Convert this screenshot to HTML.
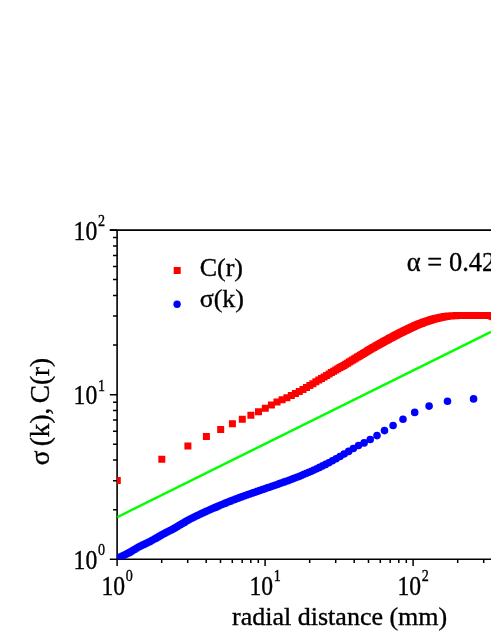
<!DOCTYPE html>
<html><head><meta charset="utf-8"><title>chart</title>
<style>
html,body{margin:0;padding:0;background:#fff;}
body{width:491px;height:635px;overflow:hidden;}
svg{display:block;will-change:transform;}
text{font-family:"Liberation Serif",serif;fill:#000;stroke:#000;stroke-width:0.35px;}
</style></head><body>
<svg width="491" height="635" viewBox="0 0 491 635">
<rect width="491" height="635" fill="#fff"/>
<defs><clipPath id="c"><rect x="117.1" y="229.3" width="380" height="329.9"/></clipPath></defs>
<path d="M117.1 230.1V559.2H495M109.8 230.1H495" stroke="#000" stroke-width="1.6" fill="none"/>
<path d="M117.1 559.2H109.8M117.1 509.7H113M117.1 480.7H113M117.1 460.1H113M117.1 444.2H113M117.1 431.2H113M117.1 420.1H113M117.1 410.6H113M117.1 402.2H113M117.1 394.7H109.8M117.1 345.1H113M117.1 316.1H113M117.1 295.6H113M117.1 279.6H113M117.1 266.6H113M117.1 255.6H113M117.1 246H113M117.1 237.6H113M117.1 230.1H109.8M117.1 559.2V566.1M161.7 559.2V562.9M187.7 559.2V562.9M206.2 559.2V562.9M220.5 559.2V562.9M232.3 559.2V562.9M242.2 559.2V562.9M250.8 559.2V562.9M258.3 559.2V562.9M265.1 559.2V566.1M309.7 559.2V562.9M335.7 559.2V562.9M354.2 559.2V562.9M368.5 559.2V562.9M380.3 559.2V562.9M390.2 559.2V562.9M398.8 559.2V562.9M406.3 559.2V562.9M413.1 559.2V566.1M457.7 559.2V562.9M483.7 559.2V562.9" stroke="#000" stroke-width="1.5" fill="none"/>
<text transform="translate(101.4 594.6) scale(0.91 1.07)" font-size="26">10<tspan font-size="15.5" dx="0.9" dy="-12.4">0</tspan></text>
<text transform="translate(249.4 594.6) scale(0.91 1.07)" font-size="26">10<tspan font-size="15.5" dx="0.9" dy="-12.4">1</tspan></text>
<text transform="translate(397.4 594.6) scale(0.91 1.07)" font-size="26">10<tspan font-size="15.5" dx="0.9" dy="-12.4">2</tspan></text>
<text transform="translate(73.6 568.7) scale(0.91 1.07)" font-size="26">10<tspan font-size="15.5" dx="0.9" dy="-12.4">0</tspan></text>
<text transform="translate(73.6 404.2) scale(0.91 1.07)" font-size="26">10<tspan font-size="15.5" dx="0.9" dy="-12.4">1</tspan></text>
<text transform="translate(73.6 239.6) scale(0.91 1.07)" font-size="26">10<tspan font-size="15.5" dx="0.9" dy="-12.4">2</tspan></text>
<g clip-path="url(#c)">
<path d="M117.3 517.1L491 331.8" stroke="#00ff00" stroke-width="2.4" fill="none"/>
<path d="M113.8 477h7v7h-7zM158.3 455.8h7v7h-7zM184.4 442.4h7v7h-7zM202.9 433h7v7h-7zM217.2 426h7v7h-7zM228.9 420.2h7v7h-7zM238.8 415.8h7v7h-7zM247.4 411.7h7v7h-7zM255 408.3h7v7h-7zM261.8 404.8h7v7h-7zM267.9 401.5h7v7h-7zM273.5 398.5h7v7h-7zM278.6 396.3h7v7h-7zM283.4 394.2h7v7h-7zM287.8 392h7v7h-7zM291.9 390.1h7v7h-7zM295.8 388h7v7h-7zM299.5 386h7v7h-7zM303 384h7v7h-7zM306.3 382h7v7h-7zM309.4 380.2h7v7h-7zM312.4 378.3h7v7h-7zM315.3 376.6h7v7h-7zM318 375h7v7h-7zM320.6 373.4h7v7h-7zM323.1 371.9h7v7h-7zM325.6 370.5h7v7h-7zM327.9 369.1h7v7h-7zM330.2 367.8h7v7h-7zM332.3 366.6h7v7h-7zM334.4 365.3h7v7h-7zM336.5 364.1h7v7h-7zM338.5 363h7v7h-7zM340.4 361.9h7v7h-7zM342.2 360.8h7v7h-7zM344.1 359.7h7v7h-7zM345.8 358.6h7v7h-7zM347.5 357.6h7v7h-7zM349.2 356.6h7v7h-7zM350.8 355.6h7v7h-7zM352.4 354.6h7v7h-7zM354 353.6h7v7h-7zM355.5 352.7h7v7h-7zM356.9 351.8h7v7h-7zM358.4 350.9h7v7h-7zM359.8 350h7v7h-7zM361.2 349.2h7v7h-7zM362.5 348.4h7v7h-7zM363.9 347.6h7v7h-7zM365.2 346.8h7v7h-7zM366.4 346.1h7v7h-7zM367.7 345.3h7v7h-7zM368.9 344.6h7v7h-7zM370.1 343.9h7v7h-7zM371.3 343.2h7v7h-7zM372.4 342.6h7v7h-7zM373.6 341.9h7v7h-7zM374.7 341.3h7v7h-7zM375.8 340.7h7v7h-7zM376.9 340.1h7v7h-7zM377.9 339.5h7v7h-7zM379 338.9h7v7h-7zM380 338.3h7v7h-7zM381 337.8h7v7h-7zM382 337.2h7v7h-7zM383 336.7h7v7h-7zM384 336.2h7v7h-7zM384.9 335.7h7v7h-7zM385.9 335.1h7v7h-7zM386.8 334.6h7v7h-7zM387.7 334.2h7v7h-7zM388.6 333.7h7v7h-7zM389.5 333.2h7v7h-7zM390.4 332.7h7v7h-7zM391.2 332.3h7v7h-7zM392.1 331.8h7v7h-7zM392.9 331.4h7v7h-7zM393.7 331h7v7h-7zM394.6 330.6h7v7h-7zM395.4 330.1h7v7h-7zM396.2 329.7h7v7h-7zM396.9 329.3h7v7h-7zM397.7 328.9h7v7h-7zM398.5 328.6h7v7h-7zM399.3 328.2h7v7h-7zM400 327.8h7v7h-7zM400.8 327.4h7v7h-7zM401.5 327.1h7v7h-7zM402.2 326.7h7v7h-7zM402.9 326.4h7v7h-7zM403.6 326.1h7v7h-7zM404.3 325.7h7v7h-7zM405 325.4h7v7h-7zM405.7 325.1h7v7h-7zM406.4 324.7h7v7h-7zM407.1 324.4h7v7h-7zM407.7 324.1h7v7h-7zM408.4 323.8h7v7h-7zM409.1 323.5h7v7h-7zM409.7 323.2h7v7h-7zM410.3 322.9h7v7h-7zM411 322.6h7v7h-7zM411.6 322.3h7v7h-7zM412.2 322.1h7v7h-7zM412.8 321.8h7v7h-7zM413.4 321.5h7v7h-7zM414 321.3h7v7h-7zM414.6 321h7v7h-7zM415.2 320.8h7v7h-7zM415.8 320.5h7v7h-7zM416.4 320.3h7v7h-7zM417 320.1h7v7h-7zM417.6 319.9h7v7h-7zM418.1 319.7h7v7h-7zM418.7 319.5h7v7h-7zM419.2 319.3h7v7h-7zM419.8 319h7v7h-7zM420.3 318.8h7v7h-7zM420.9 318.6h7v7h-7zM421.4 318.5h7v7h-7zM421.9 318.3h7v7h-7zM422.5 318.1h7v7h-7zM423 317.9h7v7h-7zM423.5 317.7h7v7h-7zM424 317.5h7v7h-7zM424.5 317.4h7v7h-7zM425.1 317.2h7v7h-7zM425.6 317h7v7h-7zM426.1 316.9h7v7h-7zM426.6 316.7h7v7h-7zM427.1 316.5h7v7h-7zM427.5 316.4h7v7h-7zM428 316.2h7v7h-7zM428.5 316.1h7v7h-7zM429 316h7v7h-7zM429.5 315.8h7v7h-7zM429.9 315.7h7v7h-7zM430.4 315.6h7v7h-7zM430.9 315.4h7v7h-7zM431.3 315.3h7v7h-7zM431.8 315.2h7v7h-7zM432.2 315.1h7v7h-7zM432.7 315h7v7h-7zM433.1 314.9h7v7h-7zM433.6 314.8h7v7h-7zM434 314.7h7v7h-7zM434.5 314.6h7v7h-7zM434.9 314.5h7v7h-7zM435.3 314.4h7v7h-7zM435.8 314.3h7v7h-7zM436.2 314.2h7v7h-7zM436.6 314.1h7v7h-7zM437 314h7v7h-7zM437.4 313.9h7v7h-7zM437.9 313.8h7v7h-7zM438.3 313.8h7v7h-7zM438.7 313.7h7v7h-7zM439.1 313.6h7v7h-7zM439.5 313.5h7v7h-7zM439.9 313.4h7v7h-7zM440.3 313.3h7v7h-7zM440.7 313.3h7v7h-7zM441.1 313.2h7v7h-7zM441.5 313.1h7v7h-7zM441.9 313.1h7v7h-7zM442.3 313h7v7h-7zM442.7 312.9h7v7h-7zM443 312.9h7v7h-7zM443.4 312.8h7v7h-7zM443.8 312.8h7v7h-7zM444.2 312.7h7v7h-7zM444.5 312.7h7v7h-7zM444.9 312.6h7v7h-7zM445.3 312.6h7v7h-7zM445.7 312.5h7v7h-7zM446 312.5h7v7h-7zM446.4 312.5h7v7h-7zM446.7 312.4h7v7h-7zM447.1 312.4h7v7h-7zM447.5 312.4h7v7h-7zM447.8 312.4h7v7h-7zM448.2 312.4h7v7h-7zM448.5 312.3h7v7h-7zM448.9 312.3h7v7h-7zM449.2 312.3h7v7h-7zM449.6 312.3h7v7h-7zM449.9 312.3h7v7h-7zM450.3 312.3h7v7h-7zM450.6 312.2h7v7h-7zM450.9 312.2h7v7h-7zM451.3 312.2h7v7h-7zM451.6 312.2h7v7h-7zM451.9 312.2h7v7h-7zM452.3 312.2h7v7h-7zM452.6 312.1h7v7h-7zM452.9 312.1h7v7h-7zM453.3 312.1h7v7h-7zM453.6 312.1h7v7h-7zM453.9 312.1h7v7h-7zM454.2 312.1h7v7h-7zM454.6 312.1h7v7h-7zM454.9 312h7v7h-7zM455.2 312h7v7h-7zM455.5 312h7v7h-7zM455.8 312h7v7h-7zM456.1 312h7v7h-7zM456.4 312h7v7h-7zM456.8 312h7v7h-7zM457.1 312h7v7h-7zM457.4 312h7v7h-7zM457.7 312h7v7h-7zM458 312h7v7h-7zM458.3 311.9h7v7h-7zM458.6 311.9h7v7h-7zM458.9 311.9h7v7h-7zM459.2 311.9h7v7h-7zM459.5 311.9h7v7h-7zM459.8 311.9h7v7h-7zM460.1 311.9h7v7h-7zM460.4 311.9h7v7h-7zM460.7 311.9h7v7h-7zM460.9 311.9h7v7h-7zM461.2 311.9h7v7h-7zM461.5 311.9h7v7h-7zM461.8 311.9h7v7h-7zM462.1 311.9h7v7h-7zM462.4 311.9h7v7h-7zM462.7 311.9h7v7h-7zM462.9 311.9h7v7h-7zM463.2 311.9h7v7h-7zM463.5 311.9h7v7h-7zM463.8 311.9h7v7h-7zM464.1 311.9h7v7h-7zM464.3 311.9h7v7h-7zM464.6 311.9h7v7h-7zM464.9 311.9h7v7h-7zM465.1 311.9h7v7h-7zM465.4 311.9h7v7h-7zM465.7 311.9h7v7h-7zM466 311.9h7v7h-7zM466.2 311.9h7v7h-7zM466.5 311.9h7v7h-7zM466.8 311.9h7v7h-7zM467 311.9h7v7h-7zM467.3 311.9h7v7h-7zM467.5 311.9h7v7h-7zM467.8 311.9h7v7h-7zM468.1 311.9h7v7h-7zM468.3 311.9h7v7h-7zM468.6 311.9h7v7h-7zM468.8 311.9h7v7h-7zM469.1 311.9h7v7h-7zM469.3 311.9h7v7h-7zM469.6 311.9h7v7h-7zM469.8 311.9h7v7h-7zM470.1 311.9h7v7h-7zM470.3 311.9h7v7h-7zM470.6 311.9h7v7h-7zM470.8 311.9h7v7h-7zM471.1 311.9h7v7h-7zM471.3 311.9h7v7h-7zM471.6 311.9h7v7h-7zM471.8 311.9h7v7h-7zM472.1 311.9h7v7h-7zM472.3 311.9h7v7h-7zM472.6 311.9h7v7h-7zM472.8 311.9h7v7h-7zM473 311.9h7v7h-7zM473.3 311.9h7v7h-7zM473.5 311.9h7v7h-7zM473.8 311.9h7v7h-7zM474 311.9h7v7h-7zM474.2 311.9h7v7h-7zM474.5 311.9h7v7h-7zM474.7 311.9h7v7h-7zM474.9 311.9h7v7h-7zM475.2 311.9h7v7h-7zM475.4 311.9h7v7h-7zM475.6 311.9h7v7h-7zM475.9 311.9h7v7h-7zM476.1 311.9h7v7h-7zM476.3 311.9h7v7h-7zM476.5 311.9h7v7h-7zM476.8 311.9h7v7h-7zM477 311.9h7v7h-7zM477.2 311.9h7v7h-7zM477.4 311.9h7v7h-7zM477.7 311.9h7v7h-7zM477.9 311.9h7v7h-7zM478.1 311.9h7v7h-7zM478.3 311.9h7v7h-7zM478.6 311.9h7v7h-7zM478.8 311.9h7v7h-7zM479 311.9h7v7h-7zM479.2 311.9h7v7h-7zM479.4 311.9h7v7h-7zM479.6 311.9h7v7h-7zM479.9 311.9h7v7h-7zM480.1 311.9h7v7h-7zM480.3 311.9h7v7h-7zM480.5 311.9h7v7h-7zM480.7 311.9h7v7h-7zM480.9 311.9h7v7h-7zM481.1 311.9h7v7h-7zM481.4 311.9h7v7h-7zM481.6 311.9h7v7h-7zM481.8 311.9h7v7h-7zM482 311.9h7v7h-7zM482.2 311.9h7v7h-7zM482.4 311.9h7v7h-7zM482.6 311.9h7v7h-7zM482.8 311.9h7v7h-7zM483 311.9h7v7h-7zM483.2 311.9h7v7h-7zM483.4 311.9h7v7h-7zM483.6 311.9h7v7h-7zM483.8 311.9h7v7h-7zM484 311.9h7v7h-7zM484.2 311.9h7v7h-7zM484.4 311.9h7v7h-7zM484.6 311.9h7v7h-7zM484.8 311.9h7v7h-7zM485 311.9h7v7h-7zM485.2 311.9h7v7h-7zM485.4 311.9h7v7h-7zM485.6 311.9h7v7h-7zM485.8 311.9h7v7h-7zM486 311.9h7v7h-7zM486.2 311.9h7v7h-7zM486.4 311.9h7v7h-7zM486.6 311.9h7v7h-7zM486.8 312h7v7h-7zM487 312h7v7h-7zM487.2 312.1h7v7h-7zM487.4 312.1h7v7h-7zM487.6 312.2h7v7h-7zM487.8 312.2h7v7h-7zM488 312.3h7v7h-7zM488.1 312.4h7v7h-7zM488.3 312.4h7v7h-7zM488.5 312.5h7v7h-7zM488.7 312.6h7v7h-7zM488.9 312.7h7v7h-7zM489.1 312.8h7v7h-7zM489.3 312.8h7v7h-7zM489.5 312.9h7v7h-7zM489.6 313h7v7h-7zM489.8 313.1h7v7h-7zM490 313.1h7v7h-7zM490.2 313.2h7v7h-7zM490.4 313.3h7v7h-7zM490.6 313.4h7v7h-7zM490.7 313.4h7v7h-7zM490.9 313.5h7v7h-7zM491.1 313.5h7v7h-7zM491.3 313.6h7v7h-7zM491.5 313.6h7v7h-7zM491.6 313.7h7v7h-7zM491.8 313.8h7v7h-7zM492 313.8h7v7h-7zM492.2 313.9h7v7h-7zM492.4 313.9h7v7h-7zM492.5 314h7v7h-7zM492.7 314h7v7h-7zM492.9 314.1h7v7h-7zM493.1 314.1h7v7h-7zM493.2 314.2h7v7h-7zM493.4 314.2h7v7h-7zM493.6 314.3h7v7h-7zM493.8 314.3h7v7h-7zM493.9 314.4h7v7h-7zM494.1 314.4h7v7h-7zM494.3 314.5h7v7h-7zM494.5 314.5h7v7h-7zM494.6 314.6h7v7h-7zM494.8 314.6h7v7h-7zM495 314.7h7v7h-7zM495.1 314.7h7v7h-7zM495.3 314.8h7v7h-7zM495.5 314.8h7v7h-7zM495.6 314.9h7v7h-7zM495.8 314.9h7v7h-7zM496 315h7v7h-7zM496.2 315h7v7h-7zM496.3 315h7v7h-7zM496.5 315.1h7v7h-7z" fill="#ff0000"/>
<path d="M113.5 558.4a3.8 3.8 0 1 0 7.6 0a3.8 3.8 0 1 0 -7.6 0zM113.6 558.4a3.8 3.8 0 1 0 7.6 0a3.8 3.8 0 1 0 -7.6 0zM113.8 558.3a3.8 3.8 0 1 0 7.6 0a3.8 3.8 0 1 0 -7.6 0zM113.9 558.3a3.8 3.8 0 1 0 7.6 0a3.8 3.8 0 1 0 -7.6 0zM114 558.2a3.8 3.8 0 1 0 7.6 0a3.8 3.8 0 1 0 -7.6 0zM114.1 558.2a3.8 3.8 0 1 0 7.6 0a3.8 3.8 0 1 0 -7.6 0zM114.3 558.1a3.8 3.8 0 1 0 7.6 0a3.8 3.8 0 1 0 -7.6 0zM114.4 558.1a3.8 3.8 0 1 0 7.6 0a3.8 3.8 0 1 0 -7.6 0zM114.5 558a3.8 3.8 0 1 0 7.6 0a3.8 3.8 0 1 0 -7.6 0zM114.6 558a3.8 3.8 0 1 0 7.6 0a3.8 3.8 0 1 0 -7.6 0zM114.8 557.9a3.8 3.8 0 1 0 7.6 0a3.8 3.8 0 1 0 -7.6 0zM114.9 557.8a3.8 3.8 0 1 0 7.6 0a3.8 3.8 0 1 0 -7.6 0zM115 557.8a3.8 3.8 0 1 0 7.6 0a3.8 3.8 0 1 0 -7.6 0zM115.2 557.7a3.8 3.8 0 1 0 7.6 0a3.8 3.8 0 1 0 -7.6 0zM115.3 557.7a3.8 3.8 0 1 0 7.6 0a3.8 3.8 0 1 0 -7.6 0zM115.4 557.6a3.8 3.8 0 1 0 7.6 0a3.8 3.8 0 1 0 -7.6 0zM115.5 557.6a3.8 3.8 0 1 0 7.6 0a3.8 3.8 0 1 0 -7.6 0zM115.7 557.5a3.8 3.8 0 1 0 7.6 0a3.8 3.8 0 1 0 -7.6 0zM115.8 557.4a3.8 3.8 0 1 0 7.6 0a3.8 3.8 0 1 0 -7.6 0zM115.9 557.4a3.8 3.8 0 1 0 7.6 0a3.8 3.8 0 1 0 -7.6 0zM116.1 557.3a3.8 3.8 0 1 0 7.6 0a3.8 3.8 0 1 0 -7.6 0zM116.2 557.3a3.8 3.8 0 1 0 7.6 0a3.8 3.8 0 1 0 -7.6 0zM116.3 557.2a3.8 3.8 0 1 0 7.6 0a3.8 3.8 0 1 0 -7.6 0zM116.5 557.1a3.8 3.8 0 1 0 7.6 0a3.8 3.8 0 1 0 -7.6 0zM116.6 557.1a3.8 3.8 0 1 0 7.6 0a3.8 3.8 0 1 0 -7.6 0zM116.7 557a3.8 3.8 0 1 0 7.6 0a3.8 3.8 0 1 0 -7.6 0zM116.8 557a3.8 3.8 0 1 0 7.6 0a3.8 3.8 0 1 0 -7.6 0zM117 556.9a3.8 3.8 0 1 0 7.6 0a3.8 3.8 0 1 0 -7.6 0zM117.1 556.8a3.8 3.8 0 1 0 7.6 0a3.8 3.8 0 1 0 -7.6 0zM117.2 556.8a3.8 3.8 0 1 0 7.6 0a3.8 3.8 0 1 0 -7.6 0zM117.4 556.7a3.8 3.8 0 1 0 7.6 0a3.8 3.8 0 1 0 -7.6 0zM117.5 556.7a3.8 3.8 0 1 0 7.6 0a3.8 3.8 0 1 0 -7.6 0zM117.6 556.6a3.8 3.8 0 1 0 7.6 0a3.8 3.8 0 1 0 -7.6 0zM117.8 556.5a3.8 3.8 0 1 0 7.6 0a3.8 3.8 0 1 0 -7.6 0zM117.9 556.5a3.8 3.8 0 1 0 7.6 0a3.8 3.8 0 1 0 -7.6 0zM118 556.4a3.8 3.8 0 1 0 7.6 0a3.8 3.8 0 1 0 -7.6 0zM118.2 556.4a3.8 3.8 0 1 0 7.6 0a3.8 3.8 0 1 0 -7.6 0zM118.3 556.3a3.8 3.8 0 1 0 7.6 0a3.8 3.8 0 1 0 -7.6 0zM118.5 556.2a3.8 3.8 0 1 0 7.6 0a3.8 3.8 0 1 0 -7.6 0zM118.6 556.2a3.8 3.8 0 1 0 7.6 0a3.8 3.8 0 1 0 -7.6 0zM118.7 556.1a3.8 3.8 0 1 0 7.6 0a3.8 3.8 0 1 0 -7.6 0zM118.9 556a3.8 3.8 0 1 0 7.6 0a3.8 3.8 0 1 0 -7.6 0zM119 556a3.8 3.8 0 1 0 7.6 0a3.8 3.8 0 1 0 -7.6 0zM119.1 555.9a3.8 3.8 0 1 0 7.6 0a3.8 3.8 0 1 0 -7.6 0zM119.3 555.8a3.8 3.8 0 1 0 7.6 0a3.8 3.8 0 1 0 -7.6 0zM119.4 555.8a3.8 3.8 0 1 0 7.6 0a3.8 3.8 0 1 0 -7.6 0zM119.5 555.7a3.8 3.8 0 1 0 7.6 0a3.8 3.8 0 1 0 -7.6 0zM119.7 555.6a3.8 3.8 0 1 0 7.6 0a3.8 3.8 0 1 0 -7.6 0zM119.8 555.6a3.8 3.8 0 1 0 7.6 0a3.8 3.8 0 1 0 -7.6 0zM120 555.5a3.8 3.8 0 1 0 7.6 0a3.8 3.8 0 1 0 -7.6 0zM120.1 555.4a3.8 3.8 0 1 0 7.6 0a3.8 3.8 0 1 0 -7.6 0zM120.2 555.4a3.8 3.8 0 1 0 7.6 0a3.8 3.8 0 1 0 -7.6 0zM120.4 555.3a3.8 3.8 0 1 0 7.6 0a3.8 3.8 0 1 0 -7.6 0zM120.5 555.2a3.8 3.8 0 1 0 7.6 0a3.8 3.8 0 1 0 -7.6 0zM120.7 555.2a3.8 3.8 0 1 0 7.6 0a3.8 3.8 0 1 0 -7.6 0zM120.8 555.1a3.8 3.8 0 1 0 7.6 0a3.8 3.8 0 1 0 -7.6 0zM120.9 555a3.8 3.8 0 1 0 7.6 0a3.8 3.8 0 1 0 -7.6 0zM121.1 555a3.8 3.8 0 1 0 7.6 0a3.8 3.8 0 1 0 -7.6 0zM121.2 554.9a3.8 3.8 0 1 0 7.6 0a3.8 3.8 0 1 0 -7.6 0zM121.4 554.8a3.8 3.8 0 1 0 7.6 0a3.8 3.8 0 1 0 -7.6 0zM121.5 554.8a3.8 3.8 0 1 0 7.6 0a3.8 3.8 0 1 0 -7.6 0zM121.7 554.7a3.8 3.8 0 1 0 7.6 0a3.8 3.8 0 1 0 -7.6 0zM121.8 554.6a3.8 3.8 0 1 0 7.6 0a3.8 3.8 0 1 0 -7.6 0zM121.9 554.5a3.8 3.8 0 1 0 7.6 0a3.8 3.8 0 1 0 -7.6 0zM122.1 554.5a3.8 3.8 0 1 0 7.6 0a3.8 3.8 0 1 0 -7.6 0zM122.2 554.4a3.8 3.8 0 1 0 7.6 0a3.8 3.8 0 1 0 -7.6 0zM122.4 554.3a3.8 3.8 0 1 0 7.6 0a3.8 3.8 0 1 0 -7.6 0zM122.5 554.3a3.8 3.8 0 1 0 7.6 0a3.8 3.8 0 1 0 -7.6 0zM122.7 554.2a3.8 3.8 0 1 0 7.6 0a3.8 3.8 0 1 0 -7.6 0zM122.8 554.1a3.8 3.8 0 1 0 7.6 0a3.8 3.8 0 1 0 -7.6 0zM122.9 554a3.8 3.8 0 1 0 7.6 0a3.8 3.8 0 1 0 -7.6 0zM123.1 554a3.8 3.8 0 1 0 7.6 0a3.8 3.8 0 1 0 -7.6 0zM123.2 553.9a3.8 3.8 0 1 0 7.6 0a3.8 3.8 0 1 0 -7.6 0zM123.4 553.8a3.8 3.8 0 1 0 7.6 0a3.8 3.8 0 1 0 -7.6 0zM123.5 553.7a3.8 3.8 0 1 0 7.6 0a3.8 3.8 0 1 0 -7.6 0zM123.7 553.7a3.8 3.8 0 1 0 7.6 0a3.8 3.8 0 1 0 -7.6 0zM123.8 553.6a3.8 3.8 0 1 0 7.6 0a3.8 3.8 0 1 0 -7.6 0zM124 553.5a3.8 3.8 0 1 0 7.6 0a3.8 3.8 0 1 0 -7.6 0zM124.1 553.4a3.8 3.8 0 1 0 7.6 0a3.8 3.8 0 1 0 -7.6 0zM124.3 553.3a3.8 3.8 0 1 0 7.6 0a3.8 3.8 0 1 0 -7.6 0zM124.4 553.3a3.8 3.8 0 1 0 7.6 0a3.8 3.8 0 1 0 -7.6 0zM124.6 553.2a3.8 3.8 0 1 0 7.6 0a3.8 3.8 0 1 0 -7.6 0zM124.7 553.1a3.8 3.8 0 1 0 7.6 0a3.8 3.8 0 1 0 -7.6 0zM124.9 553a3.8 3.8 0 1 0 7.6 0a3.8 3.8 0 1 0 -7.6 0zM125 552.9a3.8 3.8 0 1 0 7.6 0a3.8 3.8 0 1 0 -7.6 0zM125.2 552.9a3.8 3.8 0 1 0 7.6 0a3.8 3.8 0 1 0 -7.6 0zM125.3 552.8a3.8 3.8 0 1 0 7.6 0a3.8 3.8 0 1 0 -7.6 0zM125.5 552.7a3.8 3.8 0 1 0 7.6 0a3.8 3.8 0 1 0 -7.6 0zM125.6 552.6a3.8 3.8 0 1 0 7.6 0a3.8 3.8 0 1 0 -7.6 0zM125.8 552.5a3.8 3.8 0 1 0 7.6 0a3.8 3.8 0 1 0 -7.6 0zM125.9 552.4a3.8 3.8 0 1 0 7.6 0a3.8 3.8 0 1 0 -7.6 0zM126.1 552.4a3.8 3.8 0 1 0 7.6 0a3.8 3.8 0 1 0 -7.6 0zM126.2 552.3a3.8 3.8 0 1 0 7.6 0a3.8 3.8 0 1 0 -7.6 0zM126.4 552.2a3.8 3.8 0 1 0 7.6 0a3.8 3.8 0 1 0 -7.6 0zM126.5 552.1a3.8 3.8 0 1 0 7.6 0a3.8 3.8 0 1 0 -7.6 0zM126.7 552a3.8 3.8 0 1 0 7.6 0a3.8 3.8 0 1 0 -7.6 0zM126.8 551.9a3.8 3.8 0 1 0 7.6 0a3.8 3.8 0 1 0 -7.6 0zM127 551.8a3.8 3.8 0 1 0 7.6 0a3.8 3.8 0 1 0 -7.6 0zM127.2 551.7a3.8 3.8 0 1 0 7.6 0a3.8 3.8 0 1 0 -7.6 0zM127.3 551.6a3.8 3.8 0 1 0 7.6 0a3.8 3.8 0 1 0 -7.6 0zM127.5 551.6a3.8 3.8 0 1 0 7.6 0a3.8 3.8 0 1 0 -7.6 0zM127.6 551.5a3.8 3.8 0 1 0 7.6 0a3.8 3.8 0 1 0 -7.6 0zM127.8 551.4a3.8 3.8 0 1 0 7.6 0a3.8 3.8 0 1 0 -7.6 0zM127.9 551.3a3.8 3.8 0 1 0 7.6 0a3.8 3.8 0 1 0 -7.6 0zM128.1 551.2a3.8 3.8 0 1 0 7.6 0a3.8 3.8 0 1 0 -7.6 0zM128.2 551.1a3.8 3.8 0 1 0 7.6 0a3.8 3.8 0 1 0 -7.6 0zM128.4 551a3.8 3.8 0 1 0 7.6 0a3.8 3.8 0 1 0 -7.6 0zM128.6 550.9a3.8 3.8 0 1 0 7.6 0a3.8 3.8 0 1 0 -7.6 0zM128.7 550.8a3.8 3.8 0 1 0 7.6 0a3.8 3.8 0 1 0 -7.6 0zM128.9 550.7a3.8 3.8 0 1 0 7.6 0a3.8 3.8 0 1 0 -7.6 0zM129 550.6a3.8 3.8 0 1 0 7.6 0a3.8 3.8 0 1 0 -7.6 0zM129.2 550.5a3.8 3.8 0 1 0 7.6 0a3.8 3.8 0 1 0 -7.6 0zM129.4 550.4a3.8 3.8 0 1 0 7.6 0a3.8 3.8 0 1 0 -7.6 0zM129.5 550.3a3.8 3.8 0 1 0 7.6 0a3.8 3.8 0 1 0 -7.6 0zM129.7 550.2a3.8 3.8 0 1 0 7.6 0a3.8 3.8 0 1 0 -7.6 0zM129.8 550.1a3.8 3.8 0 1 0 7.6 0a3.8 3.8 0 1 0 -7.6 0zM130 550a3.8 3.8 0 1 0 7.6 0a3.8 3.8 0 1 0 -7.6 0zM130.2 549.9a3.8 3.8 0 1 0 7.6 0a3.8 3.8 0 1 0 -7.6 0zM130.3 549.8a3.8 3.8 0 1 0 7.6 0a3.8 3.8 0 1 0 -7.6 0zM130.5 549.8a3.8 3.8 0 1 0 7.6 0a3.8 3.8 0 1 0 -7.6 0zM130.7 549.7a3.8 3.8 0 1 0 7.6 0a3.8 3.8 0 1 0 -7.6 0zM130.8 549.6a3.8 3.8 0 1 0 7.6 0a3.8 3.8 0 1 0 -7.6 0zM131 549.5a3.8 3.8 0 1 0 7.6 0a3.8 3.8 0 1 0 -7.6 0zM131.2 549.4a3.8 3.8 0 1 0 7.6 0a3.8 3.8 0 1 0 -7.6 0zM131.3 549.3a3.8 3.8 0 1 0 7.6 0a3.8 3.8 0 1 0 -7.6 0zM131.5 549.2a3.8 3.8 0 1 0 7.6 0a3.8 3.8 0 1 0 -7.6 0zM131.7 549.1a3.8 3.8 0 1 0 7.6 0a3.8 3.8 0 1 0 -7.6 0zM131.8 549a3.8 3.8 0 1 0 7.6 0a3.8 3.8 0 1 0 -7.6 0zM132 548.9a3.8 3.8 0 1 0 7.6 0a3.8 3.8 0 1 0 -7.6 0zM132.2 548.8a3.8 3.8 0 1 0 7.6 0a3.8 3.8 0 1 0 -7.6 0zM132.3 548.7a3.8 3.8 0 1 0 7.6 0a3.8 3.8 0 1 0 -7.6 0zM132.5 548.6a3.8 3.8 0 1 0 7.6 0a3.8 3.8 0 1 0 -7.6 0zM132.7 548.5a3.8 3.8 0 1 0 7.6 0a3.8 3.8 0 1 0 -7.6 0zM132.8 548.4a3.8 3.8 0 1 0 7.6 0a3.8 3.8 0 1 0 -7.6 0zM133 548.3a3.8 3.8 0 1 0 7.6 0a3.8 3.8 0 1 0 -7.6 0zM133.2 548.2a3.8 3.8 0 1 0 7.6 0a3.8 3.8 0 1 0 -7.6 0zM133.3 548.1a3.8 3.8 0 1 0 7.6 0a3.8 3.8 0 1 0 -7.6 0zM133.5 548a3.8 3.8 0 1 0 7.6 0a3.8 3.8 0 1 0 -7.6 0zM133.7 547.9a3.8 3.8 0 1 0 7.6 0a3.8 3.8 0 1 0 -7.6 0zM133.9 547.8a3.8 3.8 0 1 0 7.6 0a3.8 3.8 0 1 0 -7.6 0zM134 547.7a3.8 3.8 0 1 0 7.6 0a3.8 3.8 0 1 0 -7.6 0zM134.2 547.6a3.8 3.8 0 1 0 7.6 0a3.8 3.8 0 1 0 -7.6 0zM134.4 547.5a3.8 3.8 0 1 0 7.6 0a3.8 3.8 0 1 0 -7.6 0zM134.5 547.4a3.8 3.8 0 1 0 7.6 0a3.8 3.8 0 1 0 -7.6 0zM134.7 547.3a3.8 3.8 0 1 0 7.6 0a3.8 3.8 0 1 0 -7.6 0zM134.9 547.2a3.8 3.8 0 1 0 7.6 0a3.8 3.8 0 1 0 -7.6 0zM135.1 547.1a3.8 3.8 0 1 0 7.6 0a3.8 3.8 0 1 0 -7.6 0zM135.2 547a3.8 3.8 0 1 0 7.6 0a3.8 3.8 0 1 0 -7.6 0zM135.4 546.9a3.8 3.8 0 1 0 7.6 0a3.8 3.8 0 1 0 -7.6 0zM135.6 546.8a3.8 3.8 0 1 0 7.6 0a3.8 3.8 0 1 0 -7.6 0zM135.8 546.7a3.8 3.8 0 1 0 7.6 0a3.8 3.8 0 1 0 -7.6 0zM136 546.6a3.8 3.8 0 1 0 7.6 0a3.8 3.8 0 1 0 -7.6 0zM136.1 546.5a3.8 3.8 0 1 0 7.6 0a3.8 3.8 0 1 0 -7.6 0zM136.3 546.4a3.8 3.8 0 1 0 7.6 0a3.8 3.8 0 1 0 -7.6 0zM136.5 546.3a3.8 3.8 0 1 0 7.6 0a3.8 3.8 0 1 0 -7.6 0zM136.7 546.3a3.8 3.8 0 1 0 7.6 0a3.8 3.8 0 1 0 -7.6 0zM136.8 546.2a3.8 3.8 0 1 0 7.6 0a3.8 3.8 0 1 0 -7.6 0zM137 546.1a3.8 3.8 0 1 0 7.6 0a3.8 3.8 0 1 0 -7.6 0zM137.2 546a3.8 3.8 0 1 0 7.6 0a3.8 3.8 0 1 0 -7.6 0zM137.4 545.9a3.8 3.8 0 1 0 7.6 0a3.8 3.8 0 1 0 -7.6 0zM137.6 545.8a3.8 3.8 0 1 0 7.6 0a3.8 3.8 0 1 0 -7.6 0zM137.8 545.7a3.8 3.8 0 1 0 7.6 0a3.8 3.8 0 1 0 -7.6 0zM137.9 545.6a3.8 3.8 0 1 0 7.6 0a3.8 3.8 0 1 0 -7.6 0zM138.1 545.5a3.8 3.8 0 1 0 7.6 0a3.8 3.8 0 1 0 -7.6 0zM138.3 545.4a3.8 3.8 0 1 0 7.6 0a3.8 3.8 0 1 0 -7.6 0zM138.5 545.3a3.8 3.8 0 1 0 7.6 0a3.8 3.8 0 1 0 -7.6 0zM138.7 545.3a3.8 3.8 0 1 0 7.6 0a3.8 3.8 0 1 0 -7.6 0zM138.9 545.2a3.8 3.8 0 1 0 7.6 0a3.8 3.8 0 1 0 -7.6 0zM139.1 545.1a3.8 3.8 0 1 0 7.6 0a3.8 3.8 0 1 0 -7.6 0zM139.2 545a3.8 3.8 0 1 0 7.6 0a3.8 3.8 0 1 0 -7.6 0zM139.4 544.9a3.8 3.8 0 1 0 7.6 0a3.8 3.8 0 1 0 -7.6 0zM139.6 544.8a3.8 3.8 0 1 0 7.6 0a3.8 3.8 0 1 0 -7.6 0zM139.8 544.7a3.8 3.8 0 1 0 7.6 0a3.8 3.8 0 1 0 -7.6 0zM140 544.6a3.8 3.8 0 1 0 7.6 0a3.8 3.8 0 1 0 -7.6 0zM140.2 544.5a3.8 3.8 0 1 0 7.6 0a3.8 3.8 0 1 0 -7.6 0zM140.4 544.5a3.8 3.8 0 1 0 7.6 0a3.8 3.8 0 1 0 -7.6 0zM140.6 544.4a3.8 3.8 0 1 0 7.6 0a3.8 3.8 0 1 0 -7.6 0zM140.8 544.3a3.8 3.8 0 1 0 7.6 0a3.8 3.8 0 1 0 -7.6 0zM140.9 544.2a3.8 3.8 0 1 0 7.6 0a3.8 3.8 0 1 0 -7.6 0zM141.1 544.1a3.8 3.8 0 1 0 7.6 0a3.8 3.8 0 1 0 -7.6 0zM141.3 544a3.8 3.8 0 1 0 7.6 0a3.8 3.8 0 1 0 -7.6 0zM141.5 543.9a3.8 3.8 0 1 0 7.6 0a3.8 3.8 0 1 0 -7.6 0zM141.7 543.8a3.8 3.8 0 1 0 7.6 0a3.8 3.8 0 1 0 -7.6 0zM141.9 543.7a3.8 3.8 0 1 0 7.6 0a3.8 3.8 0 1 0 -7.6 0zM142.1 543.6a3.8 3.8 0 1 0 7.6 0a3.8 3.8 0 1 0 -7.6 0zM142.3 543.5a3.8 3.8 0 1 0 7.6 0a3.8 3.8 0 1 0 -7.6 0zM142.5 543.5a3.8 3.8 0 1 0 7.6 0a3.8 3.8 0 1 0 -7.6 0zM142.7 543.4a3.8 3.8 0 1 0 7.6 0a3.8 3.8 0 1 0 -7.6 0zM142.9 543.3a3.8 3.8 0 1 0 7.6 0a3.8 3.8 0 1 0 -7.6 0zM143.1 543.2a3.8 3.8 0 1 0 7.6 0a3.8 3.8 0 1 0 -7.6 0zM143.3 543.1a3.8 3.8 0 1 0 7.6 0a3.8 3.8 0 1 0 -7.6 0zM143.5 543a3.8 3.8 0 1 0 7.6 0a3.8 3.8 0 1 0 -7.6 0zM143.7 542.9a3.8 3.8 0 1 0 7.6 0a3.8 3.8 0 1 0 -7.6 0zM143.9 542.8a3.8 3.8 0 1 0 7.6 0a3.8 3.8 0 1 0 -7.6 0zM144.1 542.7a3.8 3.8 0 1 0 7.6 0a3.8 3.8 0 1 0 -7.6 0zM144.3 542.6a3.8 3.8 0 1 0 7.6 0a3.8 3.8 0 1 0 -7.6 0zM144.5 542.5a3.8 3.8 0 1 0 7.6 0a3.8 3.8 0 1 0 -7.6 0zM144.7 542.4a3.8 3.8 0 1 0 7.6 0a3.8 3.8 0 1 0 -7.6 0zM144.9 542.3a3.8 3.8 0 1 0 7.6 0a3.8 3.8 0 1 0 -7.6 0zM145.1 542.2a3.8 3.8 0 1 0 7.6 0a3.8 3.8 0 1 0 -7.6 0zM145.3 542.1a3.8 3.8 0 1 0 7.6 0a3.8 3.8 0 1 0 -7.6 0zM145.5 542a3.8 3.8 0 1 0 7.6 0a3.8 3.8 0 1 0 -7.6 0zM145.7 541.9a3.8 3.8 0 1 0 7.6 0a3.8 3.8 0 1 0 -7.6 0zM145.9 541.8a3.8 3.8 0 1 0 7.6 0a3.8 3.8 0 1 0 -7.6 0zM146.2 541.7a3.8 3.8 0 1 0 7.6 0a3.8 3.8 0 1 0 -7.6 0zM146.4 541.6a3.8 3.8 0 1 0 7.6 0a3.8 3.8 0 1 0 -7.6 0zM146.6 541.5a3.8 3.8 0 1 0 7.6 0a3.8 3.8 0 1 0 -7.6 0zM146.8 541.4a3.8 3.8 0 1 0 7.6 0a3.8 3.8 0 1 0 -7.6 0zM147 541.2a3.8 3.8 0 1 0 7.6 0a3.8 3.8 0 1 0 -7.6 0zM147.2 541.1a3.8 3.8 0 1 0 7.6 0a3.8 3.8 0 1 0 -7.6 0zM147.4 541a3.8 3.8 0 1 0 7.6 0a3.8 3.8 0 1 0 -7.6 0zM147.6 540.9a3.8 3.8 0 1 0 7.6 0a3.8 3.8 0 1 0 -7.6 0zM147.8 540.8a3.8 3.8 0 1 0 7.6 0a3.8 3.8 0 1 0 -7.6 0zM148.1 540.7a3.8 3.8 0 1 0 7.6 0a3.8 3.8 0 1 0 -7.6 0zM148.3 540.6a3.8 3.8 0 1 0 7.6 0a3.8 3.8 0 1 0 -7.6 0zM148.5 540.4a3.8 3.8 0 1 0 7.6 0a3.8 3.8 0 1 0 -7.6 0zM148.7 540.3a3.8 3.8 0 1 0 7.6 0a3.8 3.8 0 1 0 -7.6 0zM148.9 540.2a3.8 3.8 0 1 0 7.6 0a3.8 3.8 0 1 0 -7.6 0zM149.1 540.1a3.8 3.8 0 1 0 7.6 0a3.8 3.8 0 1 0 -7.6 0zM149.4 540a3.8 3.8 0 1 0 7.6 0a3.8 3.8 0 1 0 -7.6 0zM149.6 539.8a3.8 3.8 0 1 0 7.6 0a3.8 3.8 0 1 0 -7.6 0zM149.8 539.7a3.8 3.8 0 1 0 7.6 0a3.8 3.8 0 1 0 -7.6 0zM150 539.6a3.8 3.8 0 1 0 7.6 0a3.8 3.8 0 1 0 -7.6 0zM150.2 539.5a3.8 3.8 0 1 0 7.6 0a3.8 3.8 0 1 0 -7.6 0zM150.5 539.3a3.8 3.8 0 1 0 7.6 0a3.8 3.8 0 1 0 -7.6 0zM150.7 539.2a3.8 3.8 0 1 0 7.6 0a3.8 3.8 0 1 0 -7.6 0zM150.9 539.1a3.8 3.8 0 1 0 7.6 0a3.8 3.8 0 1 0 -7.6 0zM151.1 538.9a3.8 3.8 0 1 0 7.6 0a3.8 3.8 0 1 0 -7.6 0zM151.4 538.8a3.8 3.8 0 1 0 7.6 0a3.8 3.8 0 1 0 -7.6 0zM151.6 538.7a3.8 3.8 0 1 0 7.6 0a3.8 3.8 0 1 0 -7.6 0zM151.8 538.5a3.8 3.8 0 1 0 7.6 0a3.8 3.8 0 1 0 -7.6 0zM152.1 538.4a3.8 3.8 0 1 0 7.6 0a3.8 3.8 0 1 0 -7.6 0zM152.3 538.3a3.8 3.8 0 1 0 7.6 0a3.8 3.8 0 1 0 -7.6 0zM152.5 538.1a3.8 3.8 0 1 0 7.6 0a3.8 3.8 0 1 0 -7.6 0zM152.7 538a3.8 3.8 0 1 0 7.6 0a3.8 3.8 0 1 0 -7.6 0zM153 537.9a3.8 3.8 0 1 0 7.6 0a3.8 3.8 0 1 0 -7.6 0zM153.2 537.7a3.8 3.8 0 1 0 7.6 0a3.8 3.8 0 1 0 -7.6 0zM153.4 537.6a3.8 3.8 0 1 0 7.6 0a3.8 3.8 0 1 0 -7.6 0zM153.7 537.5a3.8 3.8 0 1 0 7.6 0a3.8 3.8 0 1 0 -7.6 0zM153.9 537.3a3.8 3.8 0 1 0 7.6 0a3.8 3.8 0 1 0 -7.6 0zM154.1 537.2a3.8 3.8 0 1 0 7.6 0a3.8 3.8 0 1 0 -7.6 0zM154.4 537.1a3.8 3.8 0 1 0 7.6 0a3.8 3.8 0 1 0 -7.6 0zM154.6 536.9a3.8 3.8 0 1 0 7.6 0a3.8 3.8 0 1 0 -7.6 0zM154.9 536.8a3.8 3.8 0 1 0 7.6 0a3.8 3.8 0 1 0 -7.6 0zM155.1 536.6a3.8 3.8 0 1 0 7.6 0a3.8 3.8 0 1 0 -7.6 0zM155.3 536.5a3.8 3.8 0 1 0 7.6 0a3.8 3.8 0 1 0 -7.6 0zM155.6 536.4a3.8 3.8 0 1 0 7.6 0a3.8 3.8 0 1 0 -7.6 0zM155.8 536.2a3.8 3.8 0 1 0 7.6 0a3.8 3.8 0 1 0 -7.6 0zM156.1 536.1a3.8 3.8 0 1 0 7.6 0a3.8 3.8 0 1 0 -7.6 0zM156.3 535.9a3.8 3.8 0 1 0 7.6 0a3.8 3.8 0 1 0 -7.6 0zM156.5 535.8a3.8 3.8 0 1 0 7.6 0a3.8 3.8 0 1 0 -7.6 0zM156.8 535.7a3.8 3.8 0 1 0 7.6 0a3.8 3.8 0 1 0 -7.6 0zM157 535.5a3.8 3.8 0 1 0 7.6 0a3.8 3.8 0 1 0 -7.6 0zM157.3 535.4a3.8 3.8 0 1 0 7.6 0a3.8 3.8 0 1 0 -7.6 0zM157.5 535.2a3.8 3.8 0 1 0 7.6 0a3.8 3.8 0 1 0 -7.6 0zM157.8 535.1a3.8 3.8 0 1 0 7.6 0a3.8 3.8 0 1 0 -7.6 0zM158 534.9a3.8 3.8 0 1 0 7.6 0a3.8 3.8 0 1 0 -7.6 0zM158.3 534.8a3.8 3.8 0 1 0 7.6 0a3.8 3.8 0 1 0 -7.6 0zM158.5 534.7a3.8 3.8 0 1 0 7.6 0a3.8 3.8 0 1 0 -7.6 0zM158.8 534.5a3.8 3.8 0 1 0 7.6 0a3.8 3.8 0 1 0 -7.6 0zM159 534.4a3.8 3.8 0 1 0 7.6 0a3.8 3.8 0 1 0 -7.6 0zM159.3 534.2a3.8 3.8 0 1 0 7.6 0a3.8 3.8 0 1 0 -7.6 0zM159.6 534.1a3.8 3.8 0 1 0 7.6 0a3.8 3.8 0 1 0 -7.6 0zM159.8 534a3.8 3.8 0 1 0 7.6 0a3.8 3.8 0 1 0 -7.6 0zM160.1 533.8a3.8 3.8 0 1 0 7.6 0a3.8 3.8 0 1 0 -7.6 0zM160.3 533.7a3.8 3.8 0 1 0 7.6 0a3.8 3.8 0 1 0 -7.6 0zM160.6 533.5a3.8 3.8 0 1 0 7.6 0a3.8 3.8 0 1 0 -7.6 0zM160.9 533.4a3.8 3.8 0 1 0 7.6 0a3.8 3.8 0 1 0 -7.6 0zM161.1 533.3a3.8 3.8 0 1 0 7.6 0a3.8 3.8 0 1 0 -7.6 0zM161.4 533.1a3.8 3.8 0 1 0 7.6 0a3.8 3.8 0 1 0 -7.6 0zM161.7 533a3.8 3.8 0 1 0 7.6 0a3.8 3.8 0 1 0 -7.6 0zM161.9 532.9a3.8 3.8 0 1 0 7.6 0a3.8 3.8 0 1 0 -7.6 0zM162.2 532.7a3.8 3.8 0 1 0 7.6 0a3.8 3.8 0 1 0 -7.6 0zM162.5 532.6a3.8 3.8 0 1 0 7.6 0a3.8 3.8 0 1 0 -7.6 0zM162.7 532.4a3.8 3.8 0 1 0 7.6 0a3.8 3.8 0 1 0 -7.6 0zM163 532.3a3.8 3.8 0 1 0 7.6 0a3.8 3.8 0 1 0 -7.6 0zM163.3 532.2a3.8 3.8 0 1 0 7.6 0a3.8 3.8 0 1 0 -7.6 0zM163.5 532a3.8 3.8 0 1 0 7.6 0a3.8 3.8 0 1 0 -7.6 0zM163.8 531.9a3.8 3.8 0 1 0 7.6 0a3.8 3.8 0 1 0 -7.6 0zM164.1 531.8a3.8 3.8 0 1 0 7.6 0a3.8 3.8 0 1 0 -7.6 0zM164.4 531.6a3.8 3.8 0 1 0 7.6 0a3.8 3.8 0 1 0 -7.6 0zM164.6 531.5a3.8 3.8 0 1 0 7.6 0a3.8 3.8 0 1 0 -7.6 0zM164.9 531.3a3.8 3.8 0 1 0 7.6 0a3.8 3.8 0 1 0 -7.6 0zM165.2 531.2a3.8 3.8 0 1 0 7.6 0a3.8 3.8 0 1 0 -7.6 0zM165.5 531.1a3.8 3.8 0 1 0 7.6 0a3.8 3.8 0 1 0 -7.6 0zM165.8 530.9a3.8 3.8 0 1 0 7.6 0a3.8 3.8 0 1 0 -7.6 0zM166 530.8a3.8 3.8 0 1 0 7.6 0a3.8 3.8 0 1 0 -7.6 0zM166.3 530.6a3.8 3.8 0 1 0 7.6 0a3.8 3.8 0 1 0 -7.6 0zM166.6 530.5a3.8 3.8 0 1 0 7.6 0a3.8 3.8 0 1 0 -7.6 0zM166.9 530.3a3.8 3.8 0 1 0 7.6 0a3.8 3.8 0 1 0 -7.6 0zM167.2 530.2a3.8 3.8 0 1 0 7.6 0a3.8 3.8 0 1 0 -7.6 0zM167.5 530a3.8 3.8 0 1 0 7.6 0a3.8 3.8 0 1 0 -7.6 0zM167.8 529.9a3.8 3.8 0 1 0 7.6 0a3.8 3.8 0 1 0 -7.6 0zM168.1 529.7a3.8 3.8 0 1 0 7.6 0a3.8 3.8 0 1 0 -7.6 0zM168.4 529.6a3.8 3.8 0 1 0 7.6 0a3.8 3.8 0 1 0 -7.6 0zM168.7 529.4a3.8 3.8 0 1 0 7.6 0a3.8 3.8 0 1 0 -7.6 0zM169 529.3a3.8 3.8 0 1 0 7.6 0a3.8 3.8 0 1 0 -7.6 0zM169.3 529.1a3.8 3.8 0 1 0 7.6 0a3.8 3.8 0 1 0 -7.6 0zM169.6 528.9a3.8 3.8 0 1 0 7.6 0a3.8 3.8 0 1 0 -7.6 0zM169.9 528.8a3.8 3.8 0 1 0 7.6 0a3.8 3.8 0 1 0 -7.6 0zM170.2 528.6a3.8 3.8 0 1 0 7.6 0a3.8 3.8 0 1 0 -7.6 0zM170.5 528.4a3.8 3.8 0 1 0 7.6 0a3.8 3.8 0 1 0 -7.6 0zM170.8 528.2a3.8 3.8 0 1 0 7.6 0a3.8 3.8 0 1 0 -7.6 0zM171.1 528.1a3.8 3.8 0 1 0 7.6 0a3.8 3.8 0 1 0 -7.6 0zM171.4 527.9a3.8 3.8 0 1 0 7.6 0a3.8 3.8 0 1 0 -7.6 0zM171.7 527.7a3.8 3.8 0 1 0 7.6 0a3.8 3.8 0 1 0 -7.6 0zM172 527.5a3.8 3.8 0 1 0 7.6 0a3.8 3.8 0 1 0 -7.6 0zM172.3 527.3a3.8 3.8 0 1 0 7.6 0a3.8 3.8 0 1 0 -7.6 0zM172.6 527.2a3.8 3.8 0 1 0 7.6 0a3.8 3.8 0 1 0 -7.6 0zM172.9 527a3.8 3.8 0 1 0 7.6 0a3.8 3.8 0 1 0 -7.6 0zM173.3 526.8a3.8 3.8 0 1 0 7.6 0a3.8 3.8 0 1 0 -7.6 0zM173.6 526.6a3.8 3.8 0 1 0 7.6 0a3.8 3.8 0 1 0 -7.6 0zM173.9 526.4a3.8 3.8 0 1 0 7.6 0a3.8 3.8 0 1 0 -7.6 0zM174.2 526.2a3.8 3.8 0 1 0 7.6 0a3.8 3.8 0 1 0 -7.6 0zM174.5 526a3.8 3.8 0 1 0 7.6 0a3.8 3.8 0 1 0 -7.6 0zM174.9 525.8a3.8 3.8 0 1 0 7.6 0a3.8 3.8 0 1 0 -7.6 0zM175.2 525.6a3.8 3.8 0 1 0 7.6 0a3.8 3.8 0 1 0 -7.6 0zM175.5 525.4a3.8 3.8 0 1 0 7.6 0a3.8 3.8 0 1 0 -7.6 0zM175.9 525.2a3.8 3.8 0 1 0 7.6 0a3.8 3.8 0 1 0 -7.6 0zM176.2 525a3.8 3.8 0 1 0 7.6 0a3.8 3.8 0 1 0 -7.6 0zM176.5 524.8a3.8 3.8 0 1 0 7.6 0a3.8 3.8 0 1 0 -7.6 0zM176.9 524.6a3.8 3.8 0 1 0 7.6 0a3.8 3.8 0 1 0 -7.6 0zM177.2 524.4a3.8 3.8 0 1 0 7.6 0a3.8 3.8 0 1 0 -7.6 0zM177.5 524.2a3.8 3.8 0 1 0 7.6 0a3.8 3.8 0 1 0 -7.6 0zM177.9 524a3.8 3.8 0 1 0 7.6 0a3.8 3.8 0 1 0 -7.6 0zM178.2 523.8a3.8 3.8 0 1 0 7.6 0a3.8 3.8 0 1 0 -7.6 0zM178.6 523.6a3.8 3.8 0 1 0 7.6 0a3.8 3.8 0 1 0 -7.6 0zM178.9 523.4a3.8 3.8 0 1 0 7.6 0a3.8 3.8 0 1 0 -7.6 0zM179.3 523.2a3.8 3.8 0 1 0 7.6 0a3.8 3.8 0 1 0 -7.6 0zM179.6 523a3.8 3.8 0 1 0 7.6 0a3.8 3.8 0 1 0 -7.6 0zM180 522.8a3.8 3.8 0 1 0 7.6 0a3.8 3.8 0 1 0 -7.6 0zM180.3 522.6a3.8 3.8 0 1 0 7.6 0a3.8 3.8 0 1 0 -7.6 0zM180.7 522.4a3.8 3.8 0 1 0 7.6 0a3.8 3.8 0 1 0 -7.6 0zM181 522.2a3.8 3.8 0 1 0 7.6 0a3.8 3.8 0 1 0 -7.6 0zM181.4 521.9a3.8 3.8 0 1 0 7.6 0a3.8 3.8 0 1 0 -7.6 0zM181.7 521.7a3.8 3.8 0 1 0 7.6 0a3.8 3.8 0 1 0 -7.6 0zM182.1 521.5a3.8 3.8 0 1 0 7.6 0a3.8 3.8 0 1 0 -7.6 0zM182.5 521.3a3.8 3.8 0 1 0 7.6 0a3.8 3.8 0 1 0 -7.6 0zM182.8 521.1a3.8 3.8 0 1 0 7.6 0a3.8 3.8 0 1 0 -7.6 0zM183.2 520.9a3.8 3.8 0 1 0 7.6 0a3.8 3.8 0 1 0 -7.6 0zM183.6 520.7a3.8 3.8 0 1 0 7.6 0a3.8 3.8 0 1 0 -7.6 0zM184 520.5a3.8 3.8 0 1 0 7.6 0a3.8 3.8 0 1 0 -7.6 0zM184.3 520.3a3.8 3.8 0 1 0 7.6 0a3.8 3.8 0 1 0 -7.6 0zM184.7 520.1a3.8 3.8 0 1 0 7.6 0a3.8 3.8 0 1 0 -7.6 0zM185.1 519.9a3.8 3.8 0 1 0 7.6 0a3.8 3.8 0 1 0 -7.6 0zM185.5 519.7a3.8 3.8 0 1 0 7.6 0a3.8 3.8 0 1 0 -7.6 0zM185.9 519.5a3.8 3.8 0 1 0 7.6 0a3.8 3.8 0 1 0 -7.6 0zM186.3 519.3a3.8 3.8 0 1 0 7.6 0a3.8 3.8 0 1 0 -7.6 0zM186.7 519.1a3.8 3.8 0 1 0 7.6 0a3.8 3.8 0 1 0 -7.6 0zM187 518.9a3.8 3.8 0 1 0 7.6 0a3.8 3.8 0 1 0 -7.6 0zM187.4 518.7a3.8 3.8 0 1 0 7.6 0a3.8 3.8 0 1 0 -7.6 0zM187.8 518.5a3.8 3.8 0 1 0 7.6 0a3.8 3.8 0 1 0 -7.6 0zM188.2 518.3a3.8 3.8 0 1 0 7.6 0a3.8 3.8 0 1 0 -7.6 0zM188.6 518.1a3.8 3.8 0 1 0 7.6 0a3.8 3.8 0 1 0 -7.6 0zM189 517.9a3.8 3.8 0 1 0 7.6 0a3.8 3.8 0 1 0 -7.6 0zM189.5 517.7a3.8 3.8 0 1 0 7.6 0a3.8 3.8 0 1 0 -7.6 0zM189.9 517.5a3.8 3.8 0 1 0 7.6 0a3.8 3.8 0 1 0 -7.6 0zM190.3 517.3a3.8 3.8 0 1 0 7.6 0a3.8 3.8 0 1 0 -7.6 0zM190.7 517.1a3.8 3.8 0 1 0 7.6 0a3.8 3.8 0 1 0 -7.6 0zM191.1 516.9a3.8 3.8 0 1 0 7.6 0a3.8 3.8 0 1 0 -7.6 0zM191.5 516.7a3.8 3.8 0 1 0 7.6 0a3.8 3.8 0 1 0 -7.6 0zM192 516.4a3.8 3.8 0 1 0 7.6 0a3.8 3.8 0 1 0 -7.6 0zM192.4 516.2a3.8 3.8 0 1 0 7.6 0a3.8 3.8 0 1 0 -7.6 0zM192.8 516a3.8 3.8 0 1 0 7.6 0a3.8 3.8 0 1 0 -7.6 0zM193.2 515.8a3.8 3.8 0 1 0 7.6 0a3.8 3.8 0 1 0 -7.6 0zM193.7 515.6a3.8 3.8 0 1 0 7.6 0a3.8 3.8 0 1 0 -7.6 0zM194.1 515.4a3.8 3.8 0 1 0 7.6 0a3.8 3.8 0 1 0 -7.6 0zM194.6 515.2a3.8 3.8 0 1 0 7.6 0a3.8 3.8 0 1 0 -7.6 0zM195 515a3.8 3.8 0 1 0 7.6 0a3.8 3.8 0 1 0 -7.6 0zM195.5 514.8a3.8 3.8 0 1 0 7.6 0a3.8 3.8 0 1 0 -7.6 0zM195.9 514.5a3.8 3.8 0 1 0 7.6 0a3.8 3.8 0 1 0 -7.6 0zM196.4 514.3a3.8 3.8 0 1 0 7.6 0a3.8 3.8 0 1 0 -7.6 0zM196.8 514.1a3.8 3.8 0 1 0 7.6 0a3.8 3.8 0 1 0 -7.6 0zM197.3 513.9a3.8 3.8 0 1 0 7.6 0a3.8 3.8 0 1 0 -7.6 0zM197.7 513.7a3.8 3.8 0 1 0 7.6 0a3.8 3.8 0 1 0 -7.6 0zM198.2 513.4a3.8 3.8 0 1 0 7.6 0a3.8 3.8 0 1 0 -7.6 0zM198.7 513.2a3.8 3.8 0 1 0 7.6 0a3.8 3.8 0 1 0 -7.6 0zM199.2 513a3.8 3.8 0 1 0 7.6 0a3.8 3.8 0 1 0 -7.6 0zM199.6 512.8a3.8 3.8 0 1 0 7.6 0a3.8 3.8 0 1 0 -7.6 0zM200.1 512.6a3.8 3.8 0 1 0 7.6 0a3.8 3.8 0 1 0 -7.6 0zM200.6 512.3a3.8 3.8 0 1 0 7.6 0a3.8 3.8 0 1 0 -7.6 0zM201.1 512.1a3.8 3.8 0 1 0 7.6 0a3.8 3.8 0 1 0 -7.6 0zM201.6 511.9a3.8 3.8 0 1 0 7.6 0a3.8 3.8 0 1 0 -7.6 0zM202.1 511.7a3.8 3.8 0 1 0 7.6 0a3.8 3.8 0 1 0 -7.6 0zM202.6 511.4a3.8 3.8 0 1 0 7.6 0a3.8 3.8 0 1 0 -7.6 0zM203.1 511.2a3.8 3.8 0 1 0 7.6 0a3.8 3.8 0 1 0 -7.6 0zM203.6 511a3.8 3.8 0 1 0 7.6 0a3.8 3.8 0 1 0 -7.6 0zM204.1 510.7a3.8 3.8 0 1 0 7.6 0a3.8 3.8 0 1 0 -7.6 0zM204.6 510.5a3.8 3.8 0 1 0 7.6 0a3.8 3.8 0 1 0 -7.6 0zM205.1 510.3a3.8 3.8 0 1 0 7.6 0a3.8 3.8 0 1 0 -7.6 0zM205.7 510a3.8 3.8 0 1 0 7.6 0a3.8 3.8 0 1 0 -7.6 0zM206.2 509.8a3.8 3.8 0 1 0 7.6 0a3.8 3.8 0 1 0 -7.6 0zM206.7 509.6a3.8 3.8 0 1 0 7.6 0a3.8 3.8 0 1 0 -7.6 0zM207.3 509.3a3.8 3.8 0 1 0 7.6 0a3.8 3.8 0 1 0 -7.6 0zM207.8 509.1a3.8 3.8 0 1 0 7.6 0a3.8 3.8 0 1 0 -7.6 0zM208.3 508.8a3.8 3.8 0 1 0 7.6 0a3.8 3.8 0 1 0 -7.6 0zM208.9 508.6a3.8 3.8 0 1 0 7.6 0a3.8 3.8 0 1 0 -7.6 0zM209.5 508.3a3.8 3.8 0 1 0 7.6 0a3.8 3.8 0 1 0 -7.6 0zM210 508.1a3.8 3.8 0 1 0 7.6 0a3.8 3.8 0 1 0 -7.6 0zM210.6 507.9a3.8 3.8 0 1 0 7.6 0a3.8 3.8 0 1 0 -7.6 0zM211.2 507.6a3.8 3.8 0 1 0 7.6 0a3.8 3.8 0 1 0 -7.6 0zM211.7 507.4a3.8 3.8 0 1 0 7.6 0a3.8 3.8 0 1 0 -7.6 0zM212.3 507.1a3.8 3.8 0 1 0 7.6 0a3.8 3.8 0 1 0 -7.6 0zM212.9 506.8a3.8 3.8 0 1 0 7.6 0a3.8 3.8 0 1 0 -7.6 0zM213.5 506.6a3.8 3.8 0 1 0 7.6 0a3.8 3.8 0 1 0 -7.6 0zM214.1 506.3a3.8 3.8 0 1 0 7.6 0a3.8 3.8 0 1 0 -7.6 0zM214.7 506.1a3.8 3.8 0 1 0 7.6 0a3.8 3.8 0 1 0 -7.6 0zM215.3 505.8a3.8 3.8 0 1 0 7.6 0a3.8 3.8 0 1 0 -7.6 0zM215.9 505.6a3.8 3.8 0 1 0 7.6 0a3.8 3.8 0 1 0 -7.6 0zM216.5 505.3a3.8 3.8 0 1 0 7.6 0a3.8 3.8 0 1 0 -7.6 0zM217.2 505a3.8 3.8 0 1 0 7.6 0a3.8 3.8 0 1 0 -7.6 0zM217.8 504.8a3.8 3.8 0 1 0 7.6 0a3.8 3.8 0 1 0 -7.6 0zM218.4 504.5a3.8 3.8 0 1 0 7.6 0a3.8 3.8 0 1 0 -7.6 0zM219.1 504.2a3.8 3.8 0 1 0 7.6 0a3.8 3.8 0 1 0 -7.6 0zM219.7 504a3.8 3.8 0 1 0 7.6 0a3.8 3.8 0 1 0 -7.6 0zM220.4 503.7a3.8 3.8 0 1 0 7.6 0a3.8 3.8 0 1 0 -7.6 0zM221.1 503.4a3.8 3.8 0 1 0 7.6 0a3.8 3.8 0 1 0 -7.6 0zM221.7 503.1a3.8 3.8 0 1 0 7.6 0a3.8 3.8 0 1 0 -7.6 0zM222.4 502.9a3.8 3.8 0 1 0 7.6 0a3.8 3.8 0 1 0 -7.6 0zM223.1 502.6a3.8 3.8 0 1 0 7.6 0a3.8 3.8 0 1 0 -7.6 0zM223.8 502.3a3.8 3.8 0 1 0 7.6 0a3.8 3.8 0 1 0 -7.6 0zM224.5 502a3.8 3.8 0 1 0 7.6 0a3.8 3.8 0 1 0 -7.6 0zM225.2 501.7a3.8 3.8 0 1 0 7.6 0a3.8 3.8 0 1 0 -7.6 0zM225.9 501.4a3.8 3.8 0 1 0 7.6 0a3.8 3.8 0 1 0 -7.6 0zM226.7 501.2a3.8 3.8 0 1 0 7.6 0a3.8 3.8 0 1 0 -7.6 0zM227.4 500.9a3.8 3.8 0 1 0 7.6 0a3.8 3.8 0 1 0 -7.6 0zM228.1 500.6a3.8 3.8 0 1 0 7.6 0a3.8 3.8 0 1 0 -7.6 0zM228.9 500.3a3.8 3.8 0 1 0 7.6 0a3.8 3.8 0 1 0 -7.6 0zM229.6 500a3.8 3.8 0 1 0 7.6 0a3.8 3.8 0 1 0 -7.6 0zM230.4 499.7a3.8 3.8 0 1 0 7.6 0a3.8 3.8 0 1 0 -7.6 0zM231.2 499.4a3.8 3.8 0 1 0 7.6 0a3.8 3.8 0 1 0 -7.6 0zM232 499.1a3.8 3.8 0 1 0 7.6 0a3.8 3.8 0 1 0 -7.6 0zM232.8 498.8a3.8 3.8 0 1 0 7.6 0a3.8 3.8 0 1 0 -7.6 0zM233.6 498.5a3.8 3.8 0 1 0 7.6 0a3.8 3.8 0 1 0 -7.6 0zM234.4 498.2a3.8 3.8 0 1 0 7.6 0a3.8 3.8 0 1 0 -7.6 0zM235.2 497.9a3.8 3.8 0 1 0 7.6 0a3.8 3.8 0 1 0 -7.6 0zM236.1 497.5a3.8 3.8 0 1 0 7.6 0a3.8 3.8 0 1 0 -7.6 0zM236.9 497.2a3.8 3.8 0 1 0 7.6 0a3.8 3.8 0 1 0 -7.6 0zM237.8 496.9a3.8 3.8 0 1 0 7.6 0a3.8 3.8 0 1 0 -7.6 0zM238.7 496.6a3.8 3.8 0 1 0 7.6 0a3.8 3.8 0 1 0 -7.6 0zM239.5 496.3a3.8 3.8 0 1 0 7.6 0a3.8 3.8 0 1 0 -7.6 0zM240.4 496a3.8 3.8 0 1 0 7.6 0a3.8 3.8 0 1 0 -7.6 0zM241.4 495.6a3.8 3.8 0 1 0 7.6 0a3.8 3.8 0 1 0 -7.6 0zM242.3 495.3a3.8 3.8 0 1 0 7.6 0a3.8 3.8 0 1 0 -7.6 0zM243.2 495a3.8 3.8 0 1 0 7.6 0a3.8 3.8 0 1 0 -7.6 0zM244.2 494.6a3.8 3.8 0 1 0 7.6 0a3.8 3.8 0 1 0 -7.6 0zM245.1 494.3a3.8 3.8 0 1 0 7.6 0a3.8 3.8 0 1 0 -7.6 0zM246.1 494a3.8 3.8 0 1 0 7.6 0a3.8 3.8 0 1 0 -7.6 0zM247.1 493.6a3.8 3.8 0 1 0 7.6 0a3.8 3.8 0 1 0 -7.6 0zM248.1 493.3a3.8 3.8 0 1 0 7.6 0a3.8 3.8 0 1 0 -7.6 0zM249.2 492.9a3.8 3.8 0 1 0 7.6 0a3.8 3.8 0 1 0 -7.6 0zM250.2 492.5a3.8 3.8 0 1 0 7.6 0a3.8 3.8 0 1 0 -7.6 0zM251.3 492.2a3.8 3.8 0 1 0 7.6 0a3.8 3.8 0 1 0 -7.6 0zM252.3 491.8a3.8 3.8 0 1 0 7.6 0a3.8 3.8 0 1 0 -7.6 0zM253.4 491.4a3.8 3.8 0 1 0 7.6 0a3.8 3.8 0 1 0 -7.6 0zM254.6 491a3.8 3.8 0 1 0 7.6 0a3.8 3.8 0 1 0 -7.6 0zM255.7 490.6a3.8 3.8 0 1 0 7.6 0a3.8 3.8 0 1 0 -7.6 0zM256.8 490.2a3.8 3.8 0 1 0 7.6 0a3.8 3.8 0 1 0 -7.6 0zM258 489.8a3.8 3.8 0 1 0 7.6 0a3.8 3.8 0 1 0 -7.6 0zM259.2 489.4a3.8 3.8 0 1 0 7.6 0a3.8 3.8 0 1 0 -7.6 0zM260.5 489a3.8 3.8 0 1 0 7.6 0a3.8 3.8 0 1 0 -7.6 0zM261.7 488.5a3.8 3.8 0 1 0 7.6 0a3.8 3.8 0 1 0 -7.6 0zM263 488.1a3.8 3.8 0 1 0 7.6 0a3.8 3.8 0 1 0 -7.6 0zM264.3 487.6a3.8 3.8 0 1 0 7.6 0a3.8 3.8 0 1 0 -7.6 0zM265.6 487.2a3.8 3.8 0 1 0 7.6 0a3.8 3.8 0 1 0 -7.6 0zM266.9 486.7a3.8 3.8 0 1 0 7.6 0a3.8 3.8 0 1 0 -7.6 0zM268.3 486.2a3.8 3.8 0 1 0 7.6 0a3.8 3.8 0 1 0 -7.6 0zM269.7 485.7a3.8 3.8 0 1 0 7.6 0a3.8 3.8 0 1 0 -7.6 0zM271.2 485.2a3.8 3.8 0 1 0 7.6 0a3.8 3.8 0 1 0 -7.6 0zM272.7 484.7a3.8 3.8 0 1 0 7.6 0a3.8 3.8 0 1 0 -7.6 0zM274.2 484.2a3.8 3.8 0 1 0 7.6 0a3.8 3.8 0 1 0 -7.6 0zM275.7 483.6a3.8 3.8 0 1 0 7.6 0a3.8 3.8 0 1 0 -7.6 0zM277.3 483.1a3.8 3.8 0 1 0 7.6 0a3.8 3.8 0 1 0 -7.6 0zM278.9 482.5a3.8 3.8 0 1 0 7.6 0a3.8 3.8 0 1 0 -7.6 0zM280.6 481.9a3.8 3.8 0 1 0 7.6 0a3.8 3.8 0 1 0 -7.6 0zM282.3 481.3a3.8 3.8 0 1 0 7.6 0a3.8 3.8 0 1 0 -7.6 0zM284.1 480.7a3.8 3.8 0 1 0 7.6 0a3.8 3.8 0 1 0 -7.6 0zM285.9 480a3.8 3.8 0 1 0 7.6 0a3.8 3.8 0 1 0 -7.6 0zM287.8 479.3a3.8 3.8 0 1 0 7.6 0a3.8 3.8 0 1 0 -7.6 0zM289.7 478.6a3.8 3.8 0 1 0 7.6 0a3.8 3.8 0 1 0 -7.6 0zM291.6 477.8a3.8 3.8 0 1 0 7.6 0a3.8 3.8 0 1 0 -7.6 0zM293.7 477a3.8 3.8 0 1 0 7.6 0a3.8 3.8 0 1 0 -7.6 0zM295.8 476.2a3.8 3.8 0 1 0 7.6 0a3.8 3.8 0 1 0 -7.6 0zM298 475.3a3.8 3.8 0 1 0 7.6 0a3.8 3.8 0 1 0 -7.6 0zM300.2 474.3a3.8 3.8 0 1 0 7.6 0a3.8 3.8 0 1 0 -7.6 0zM302.6 473.3a3.8 3.8 0 1 0 7.6 0a3.8 3.8 0 1 0 -7.6 0zM305 472.3a3.8 3.8 0 1 0 7.6 0a3.8 3.8 0 1 0 -7.6 0zM307.5 471.2a3.8 3.8 0 1 0 7.6 0a3.8 3.8 0 1 0 -7.6 0zM310.1 470a3.8 3.8 0 1 0 7.6 0a3.8 3.8 0 1 0 -7.6 0zM312.9 468.7a3.8 3.8 0 1 0 7.6 0a3.8 3.8 0 1 0 -7.6 0zM315.7 467.4a3.8 3.8 0 1 0 7.6 0a3.8 3.8 0 1 0 -7.6 0zM318.7 465.9a3.8 3.8 0 1 0 7.6 0a3.8 3.8 0 1 0 -7.6 0zM321.8 464.4a3.8 3.8 0 1 0 7.6 0a3.8 3.8 0 1 0 -7.6 0zM325.1 462.7a3.8 3.8 0 1 0 7.6 0a3.8 3.8 0 1 0 -7.6 0zM328.6 460.8a3.8 3.8 0 1 0 7.6 0a3.8 3.8 0 1 0 -7.6 0zM332.3 458.7a3.8 3.8 0 1 0 7.6 0a3.8 3.8 0 1 0 -7.6 0zM336.2 456.5a3.8 3.8 0 1 0 7.6 0a3.8 3.8 0 1 0 -7.6 0zM340.3 454a3.8 3.8 0 1 0 7.6 0a3.8 3.8 0 1 0 -7.6 0zM344.8 451.4a3.8 3.8 0 1 0 7.6 0a3.8 3.8 0 1 0 -7.6 0zM349.5 448.5a3.8 3.8 0 1 0 7.6 0a3.8 3.8 0 1 0 -7.6 0zM354.7 445.5a3.8 3.8 0 1 0 7.6 0a3.8 3.8 0 1 0 -7.6 0zM360.3 442.9a3.8 3.8 0 1 0 7.6 0a3.8 3.8 0 1 0 -7.6 0zM366.4 439.5a3.8 3.8 0 1 0 7.6 0a3.8 3.8 0 1 0 -7.6 0zM373.2 435.6a3.8 3.8 0 1 0 7.6 0a3.8 3.8 0 1 0 -7.6 0zM380.7 430.6a3.8 3.8 0 1 0 7.6 0a3.8 3.8 0 1 0 -7.6 0zM389.3 425.5a3.8 3.8 0 1 0 7.6 0a3.8 3.8 0 1 0 -7.6 0zM399.2 419.2a3.8 3.8 0 1 0 7.6 0a3.8 3.8 0 1 0 -7.6 0zM410.9 412.4a3.8 3.8 0 1 0 7.6 0a3.8 3.8 0 1 0 -7.6 0zM425.3 406.1a3.8 3.8 0 1 0 7.6 0a3.8 3.8 0 1 0 -7.6 0zM443.7 401.3a3.8 3.8 0 1 0 7.6 0a3.8 3.8 0 1 0 -7.6 0zM469.8 398.9a3.8 3.8 0 1 0 7.6 0a3.8 3.8 0 1 0 -7.6 0z" fill="#0000ff"/>
</g>
<rect x="173.7" y="267" width="7" height="7" fill="#ff0000"/>
<circle cx="177.1" cy="304.3" r="3.7" fill="#0000ff"/>
<text x="199.7" y="275.7" font-size="26">C(r)</text>
<text x="199.7" y="307.4" font-size="26">σ(k)</text>
<text x="406.8" y="271.3" font-size="26.5">α = 0.42</text>
<text x="232.1" y="624.9" font-size="26">radial distance (mm)</text>
<text transform="translate(49.0 465.3) rotate(-90)" font-size="27.3" word-spacing="-2.5">σ (k), C(r)</text>
</svg>
</body></html>
